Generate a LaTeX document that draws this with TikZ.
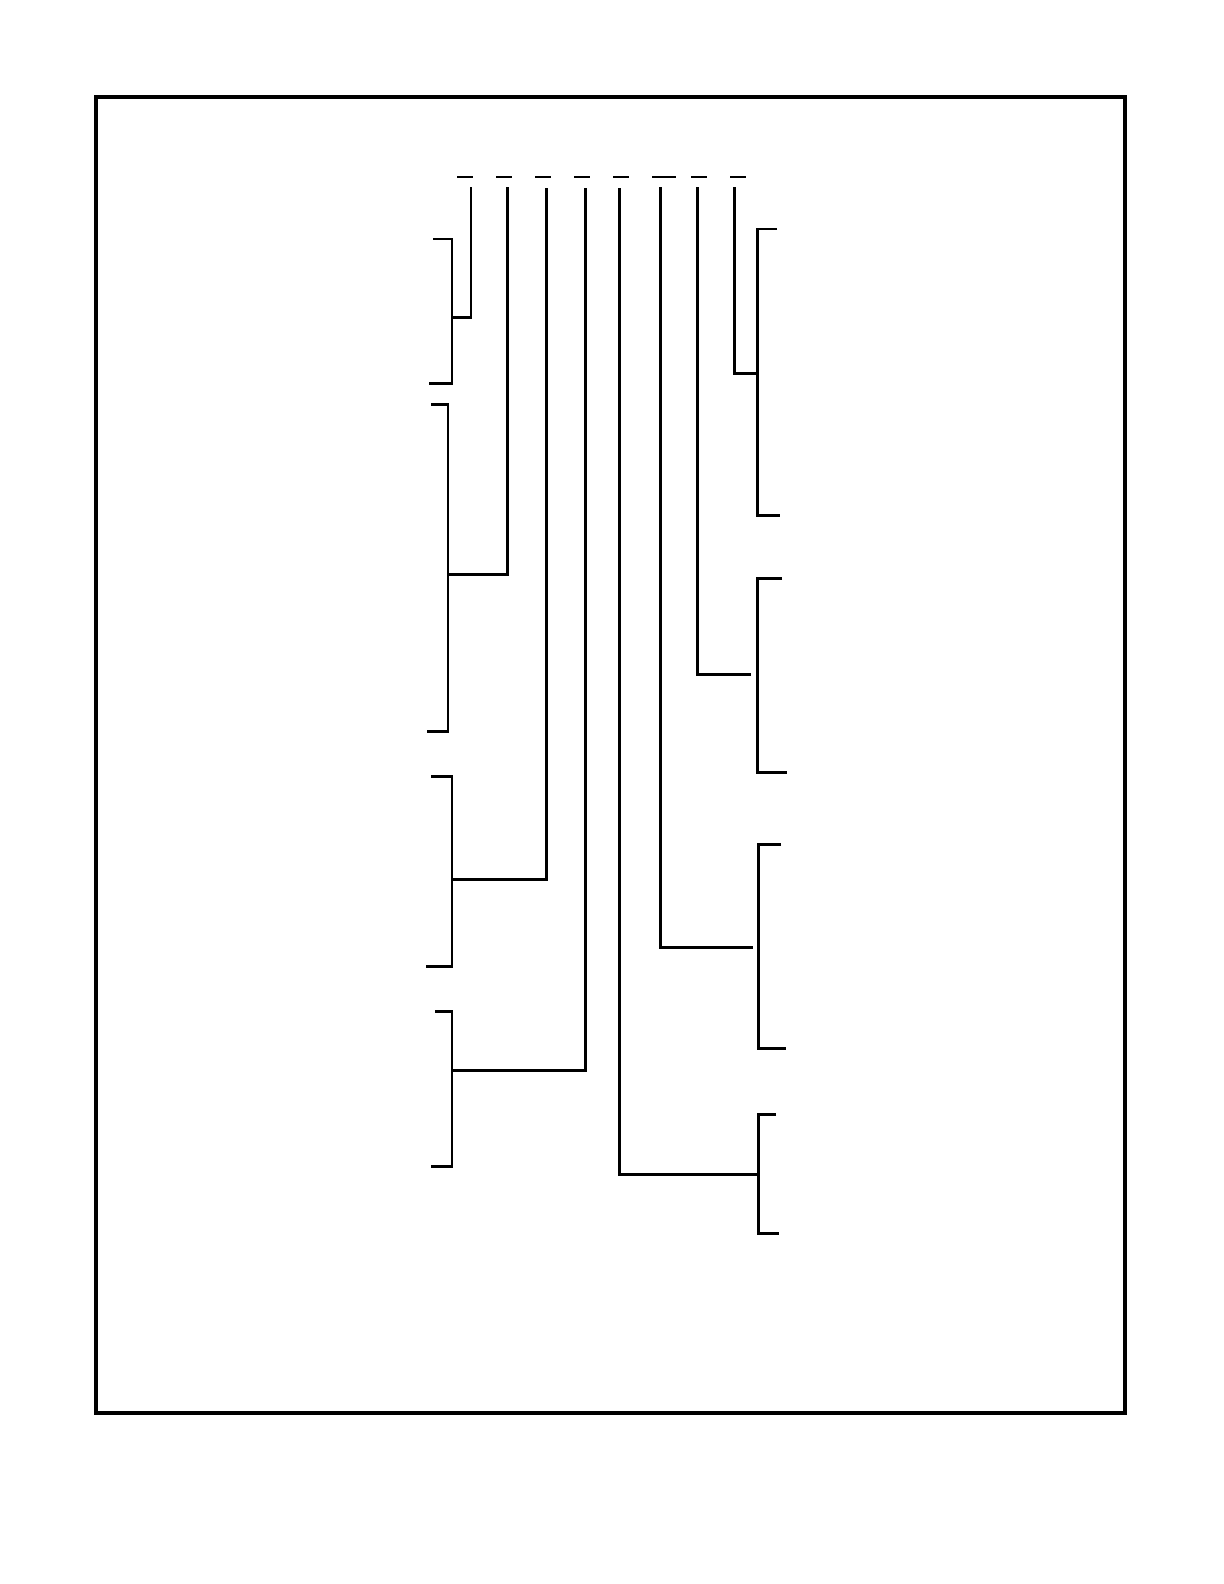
\documentclass[tikz,border=0pt]{standalone}
\begin{document}
\begin{tikzpicture}[x=0.5bp, y=-0.5bp, line width=1.5pt]
    \tikzset{cut/.style={line width=0.7pt}, brace/.style={line join=miter}}
    \useasboundingbox (0,0) rectangle (1224,1584);
    \draw[line width=1.7pt] (96,97) rectangle (1125,1413);
    % short marks above the columns
    \foreach \xa/\xb in {457/473, 496/512, 535/551, 574/590, 613/629, 652/676, 691/707, 730/746}
      \draw[cut] (\xa,177) -- (\xb,177);
    % column tops
    \coordinate (c1) at (471,187);
    \coordinate (c2) at (507,187);
    \coordinate (c3) at (546,188);
    \coordinate (c4) at (585,188);
    \coordinate (c5) at (619,188);
    \coordinate (c6) at (660,187);
    \coordinate (c7) at (697,187);
    \coordinate (c8) at (734,187);
    % left brackets
    \coordinate (ja) at (452,317);
    \coordinate (jb) at (448,574);
    \coordinate (jc) at (452,879);
    \coordinate (jd) at (452,1070);
    \draw[brace] (433,239) -- (452,239) -- (452,383) -- (429,383);
    \draw[brace] (431,404) -- (448,404) -- (448,731) -- (427,731);
    \draw[brace] (431,776) -- (452,776) -- (452,966) -- (426,966);
    \draw[brace] (435,1011) -- (452,1011) -- (452,1166) -- (431,1166);
    \draw[brace] (c1) |- (ja);
    \draw[brace] (c2) |- (jb);
    \draw[brace] (c3) |- (jc);
    \draw[brace] (c4) |- (jd);
    % right brackets
    \coordinate (je) at (757,373);
    \coordinate (jf) at (751,674);
    \coordinate (jg) at (753,947);
    \coordinate (jh) at (758,1174);
    \draw[brace] (777,229) -- (757,229) -- (757,515) -- (780,515);
    \draw[brace] (782,578) -- (757,578) -- (757,772) -- (787,772);
    \draw[brace] (781,844) -- (758,844) -- (758,1048) -- (786,1048);
    \draw[brace] (776,1114) -- (758,1114) -- (758,1233) -- (779,1233);
    \draw[brace] (c8) |- (je);
    \draw[brace] (c7) |- (jf);
    \draw[brace] (c6) |- (jg);
    \draw[brace] (c5) |- (jh);
  \end{tikzpicture}
\end{document}
